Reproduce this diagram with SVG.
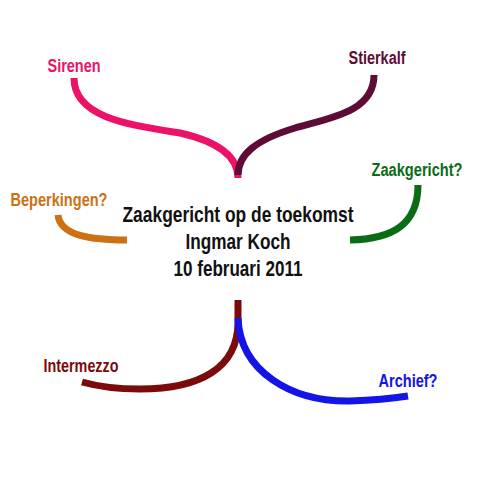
<svg xmlns="http://www.w3.org/2000/svg" width="480" height="480" viewBox="0 0 480 480">
<style>
.lbl{font-family:"Liberation Sans","Arial",sans-serif;font-weight:bold;font-size:18px;text-anchor:middle}
.ctr{font-family:"Liberation Sans","Arial",sans-serif;font-weight:bold;font-size:22px;text-anchor:middle;fill:#111}
.c{fill:none;stroke-width:7;stroke-linecap:butt}
</style>
<rect width="480" height="480" fill="#fff"/>
<g id="connectors">
<path class="c" stroke="#ec1268" d="M74,78 C74,118 130,125 180,133 C220,142 238,158 238,178"/>
<path class="c" stroke="#5e0b36" d="M374,75 C374,112 330,118 295,128 C255,140 238,155 238,175"/>
<path class="c" stroke="#0a6d16" d="M418,185 C418,225 392,239 350,240"/>
<path class="c" stroke="#cc7114" d="M58,215 C60,236 92,240 127,240"/>
<path class="c" stroke="#7b0a0c" d="M238,300 L238,322 C238,368 200,389 140,389 C115,389 96,386 82,382"/>
<path class="c" stroke="#1414e6" d="M238,318 C240,372 292,402 350,401 C380,400 395,398 408,396"/>
</g>
<g id="center"><text class="ctr" x="238" y="222" textLength="231" lengthAdjust="spacingAndGlyphs">Zaakgericht op de toekomst</text>
<text class="ctr" x="238" y="249" textLength="105" lengthAdjust="spacingAndGlyphs">Ingmar Koch</text>
<text class="ctr" x="238" y="276" textLength="129" lengthAdjust="spacingAndGlyphs">10 februari 2011</text></g>
<g id="sirenen"><text class="lbl" x="74" y="72" fill="#ec1268" textLength="53" lengthAdjust="spacingAndGlyphs">Sirenen</text></g>
<g id="stierkalf"><text class="lbl" x="377" y="64" fill="#5e0b36" textLength="57" lengthAdjust="spacingAndGlyphs">Stierkalf</text></g>
<g id="zaakgericht"><text class="lbl" x="417" y="176" fill="#0a6d16" textLength="91" lengthAdjust="spacingAndGlyphs">Zaakgericht?</text></g>
<g id="beperkingen"><text class="lbl" x="59" y="206" fill="#cc7114" textLength="97" lengthAdjust="spacingAndGlyphs">Beperkingen?</text></g>
<g id="intermezzo"><text class="lbl" x="81" y="372" fill="#7b0a0c" textLength="75" lengthAdjust="spacingAndGlyphs">Intermezzo</text></g>
<g id="archief"><text class="lbl" x="408" y="387" fill="#1414e6" textLength="59" lengthAdjust="spacingAndGlyphs">Archief?</text></g>
</svg>
